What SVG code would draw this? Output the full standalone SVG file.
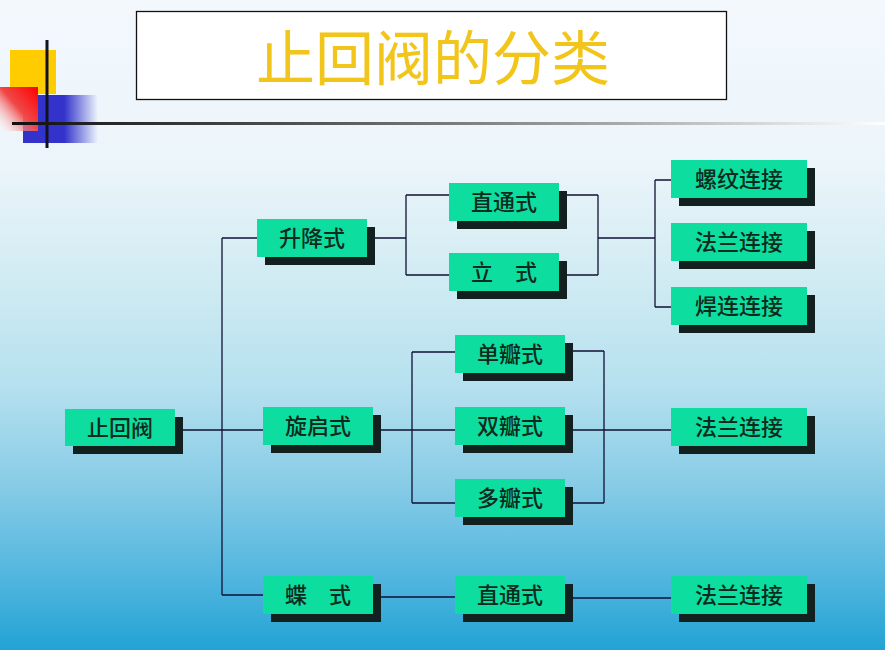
<svg xmlns="http://www.w3.org/2000/svg" width="885" height="650" viewBox="0 0 885 650">
<defs>
<linearGradient id="bg" x1="0" y1="0" x2="0" y2="1">
<stop offset="0" stop-color="#f3f8fd"/>
<stop offset="0.25" stop-color="#ecf5fa"/>
<stop offset="0.45" stop-color="#cdeaf2"/>
<stop offset="0.6" stop-color="#b4e0ef"/>
<stop offset="0.75" stop-color="#86cbe6"/>
<stop offset="0.88" stop-color="#55b7df"/>
<stop offset="1" stop-color="#22a3d4"/>
</linearGradient>
<linearGradient id="blueFade" x1="0" y1="0" x2="1" y2="0">
<stop offset="0" stop-color="#3333cc"/>
<stop offset="0.55" stop-color="#3333cc"/>
<stop offset="1" stop-color="#3333cc" stop-opacity="0"/>
</linearGradient>
<linearGradient id="redFade" x1="1" y1="0" x2="0" y2="1">
<stop offset="0" stop-color="#ff0000"/>
<stop offset="0.5" stop-color="#f04848"/>
<stop offset="1" stop-color="#ffffff" stop-opacity="0.2"/>
</linearGradient>
<linearGradient id="lineFade" x1="0" y1="0" x2="1" y2="0">
<stop offset="0" stop-color="#111111"/>
<stop offset="0.35" stop-color="#555555"/>
<stop offset="0.7" stop-color="#aaaaaa"/>
<stop offset="1" stop-color="#ffffff"/>
</linearGradient>
<style>
.box{fill:#0ddd9f}
.sh{fill:#12201f}
.t{font-family:"Noto Sans CJK SC","Noto Sans CJK JP",sans-serif;font-size:22px;font-weight:500;fill:#0d2a1c;text-anchor:middle;dominant-baseline:central}
.c{stroke:#111133;stroke-width:1.3;fill:none}
</style>
</defs>
<rect width="885" height="650" fill="url(#bg)"/>
<!-- decoration -->
<rect x="10" y="50" width="46" height="44" fill="#ffcc00"/>
<rect x="23" y="95" width="75" height="48" fill="url(#blueFade)"/>
<rect x="0" y="87" width="38" height="44" fill="url(#redFade)"/>
<line x1="47" y1="40" x2="47" y2="148" stroke="#111122" stroke-width="3"/>
<rect x="12" y="122" width="873" height="3" fill="url(#lineFade)"/>
<!-- title -->
<g id="title">
<rect x="136.5" y="11.5" width="590" height="88" fill="#ffffff" stroke="#111111" stroke-width="1.3"/>
<text x="433" y="54" font-family="'Noto Sans CJK SC','Noto Sans CJK JP',sans-serif" font-size="59" fill="#f2c51a" text-anchor="middle" dominant-baseline="central">止回阀的分类</text>
</g>
<!-- connectors -->
<g id="connectors" class="c">
<path d="M175 430 H263"/>
<path d="M222 238 V595"/>
<path d="M222 238 H257"/>
<path d="M222 595 H263"/>
<path d="M367 238 H406 M406 195 V275 M406 195 H449 M406 275 H449"/>
<path d="M567 195 H598 M567 275 H598 M598 195 V275 M598 238 H655 M655 180 V307 M655 180 H671 M655 307 H671"/>
<path d="M373 430 H455 M412 352 V503 M412 352 H455 M412 503 H455"/>
<path d="M573 351 H604 M573 503 H604 M604 351 V503 M573 430 H671"/>
<path d="M381 597 H455 M573 598 H671"/>
</g>
<!-- nodes -->
<g id="n-zhihuifa"><rect class="sh" x="73" y="417" width="110" height="37"/><rect class="box" x="65" y="409" width="110" height="37"/><text class="t" x="120" y="426">止回阀</text></g>
<g id="n-shengjiang"><rect class="sh" x="265" y="227" width="110" height="38"/><rect class="box" x="257" y="219" width="110" height="38"/><text class="t" x="312" y="236">升降式</text></g>
<g id="n-xuanqi"><rect class="sh" x="271" y="415" width="110" height="38"/><rect class="box" x="263" y="407" width="110" height="38"/><text class="t" x="318" y="424">旋启式</text></g>
<g id="n-die"><rect class="sh" x="271" y="584" width="110" height="38"/><rect class="box" x="263" y="576" width="110" height="38"/><text class="t" x="318" y="593">蝶　式</text></g>
<g id="n-zhitong1"><rect class="sh" x="457" y="191" width="110" height="38"/><rect class="box" x="449" y="183" width="110" height="38"/><text class="t" x="504" y="200">直通式</text></g>
<g id="n-li"><rect class="sh" x="457" y="261" width="110" height="38"/><rect class="box" x="449" y="253" width="110" height="38"/><text class="t" x="504" y="270">立　式</text></g>
<g id="n-danban"><rect class="sh" x="463" y="343" width="110" height="38"/><rect class="box" x="455" y="335" width="110" height="38"/><text class="t" x="510" y="352">单瓣式</text></g>
<g id="n-shuangban"><rect class="sh" x="463" y="415" width="110" height="38"/><rect class="box" x="455" y="407" width="110" height="38"/><text class="t" x="510" y="424">双瓣式</text></g>
<g id="n-duoban"><rect class="sh" x="463" y="487" width="110" height="38"/><rect class="box" x="455" y="479" width="110" height="38"/><text class="t" x="510" y="496">多瓣式</text></g>
<g id="n-zhitong2"><rect class="sh" x="463" y="584" width="110" height="38"/><rect class="box" x="455" y="576" width="110" height="38"/><text class="t" x="510" y="593">直通式</text></g>
<g id="n-luowen"><rect class="sh" x="679" y="168" width="136" height="38"/><rect class="box" x="671" y="160" width="136" height="38"/><text class="t" x="739" y="177">螺纹连接</text></g>
<g id="n-falan1"><rect class="sh" x="679" y="231" width="136" height="38"/><rect class="box" x="671" y="223" width="136" height="38"/><text class="t" x="739" y="240">法兰连接</text></g>
<g id="n-hanlian"><rect class="sh" x="679" y="295" width="136" height="38"/><rect class="box" x="671" y="287" width="136" height="38"/><text class="t" x="739" y="304">焊连连接</text></g>
<g id="n-falan2"><rect class="sh" x="679" y="416" width="136" height="38"/><rect class="box" x="671" y="408" width="136" height="38"/><text class="t" x="739" y="425">法兰连接</text></g>
<g id="n-falan3"><rect class="sh" x="679" y="584" width="136" height="38"/><rect class="box" x="671" y="576" width="136" height="38"/><text class="t" x="739" y="593">法兰连接</text></g>
</svg>
